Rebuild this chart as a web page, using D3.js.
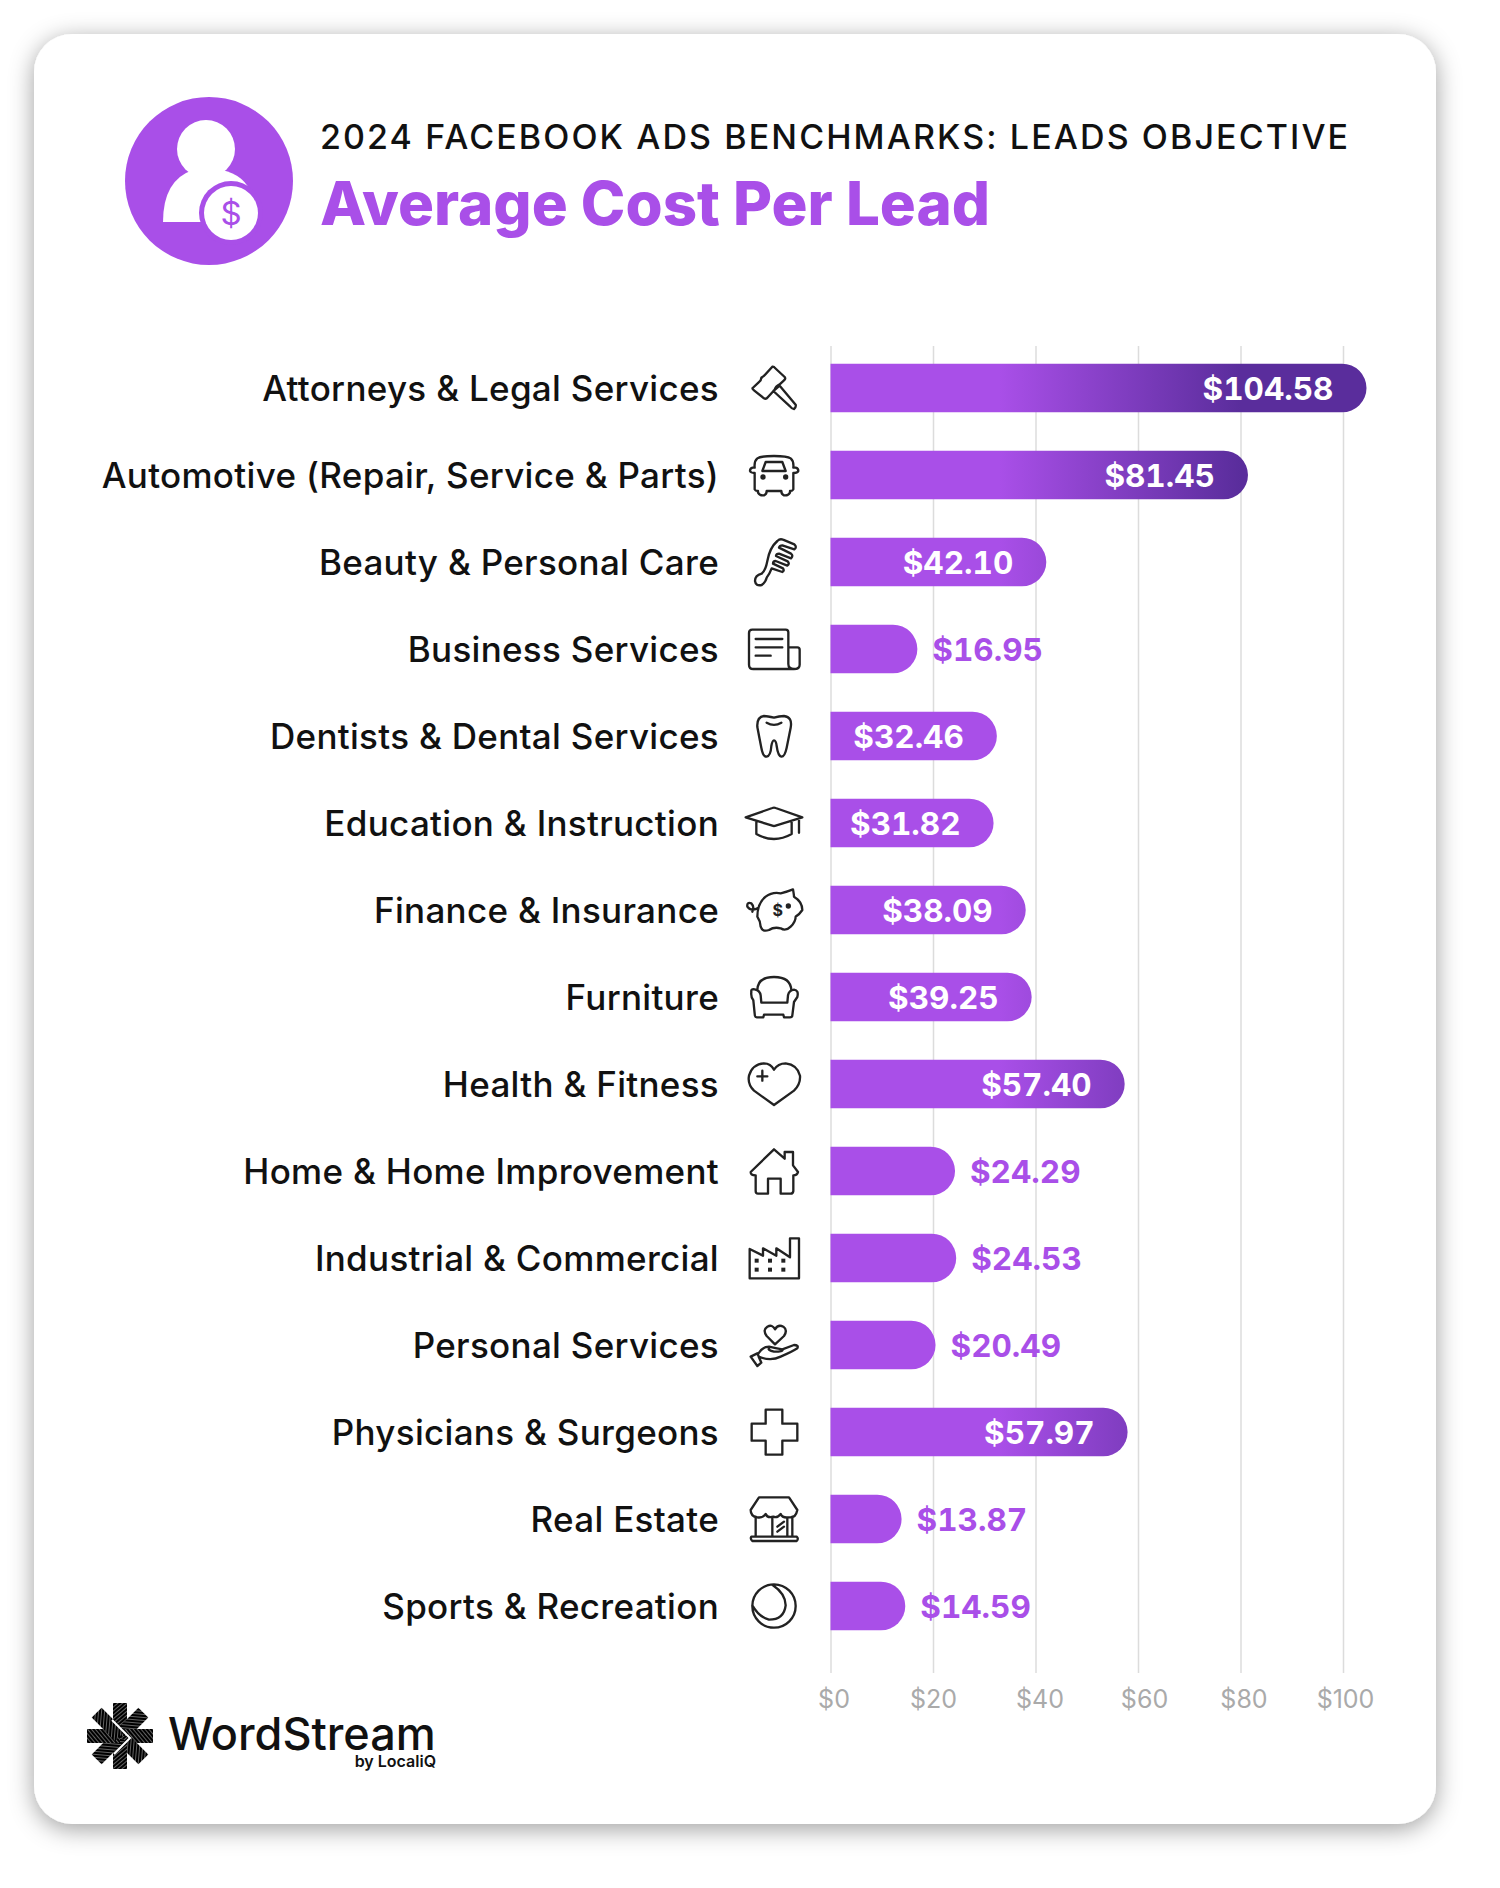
<!DOCTYPE html>
<html>
<head>
<meta charset="utf-8">
<script src="https://cdn.jsdelivr.net/npm/d3@7"></script>
<style>
  html, body { margin: 0; padding: 0; background: #fff; }
  svg { display: block; font-family: Inter, "Noto Sans", sans-serif; }
</style>
</head>
<body>
<svg id="chart" width="1500" height="1888"></svg>
<script>
const categories = ["Attorneys & Legal Services", "Automotive (Repair, Service & Parts)", "Beauty & Personal Care",
  "Business Services", "Dentists & Dental Services", "Education & Instruction", "Finance & Insurance", "Furniture",
  "Health & Fitness", "Home & Home Improvement", "Industrial & Commercial", "Personal Services",
  "Physicians & Surgeons", "Real Estate", "Sports & Recreation"];
const costs = [104.58, 81.45, 42.10, 16.95, 32.46, 31.82, 38.09, 39.25, 57.40, 24.29, 24.53, 20.49, 57.97, 13.87, 14.59];
const tickValues = [0, 20, 40, 60, 80, 100];

const purple = "#a94fe8", deep = "#5a2d9c", ink = "#111";

// icon outlines traced at 3x, centred on cx,cy
const iconShapes = [
  { cx: 130, cy: 95, d: "M66,95 L84,78 Q92,72 92,64 Q98,62 110,48 L125,31 Q130,30 133,35 L162,62 Q166,68 160,72 L147,84 Q135,90 132,100 L112,122 Q106,130 100,126 L70,102 Q64,98 66,95 Z M128,104 L147,88 L195,145 Q197,152 190,158 Q184,158 178,150 Z" },
  { cx: 130, cy: 352, d: "M72,330 Q70,310 80,302 Q90,295 130,295 Q170,295 180,302 Q190,310 188,330 L195,330 Q203,332 203,340 Q200,346 190,346 L188,346 L188,395 Q186,400 178,400 L178,405 Q172,415 160,413 Q152,410 152,400 L108,400 Q108,410 100,413 Q88,415 82,405 L82,400 Q74,400 72,395 L72,346 Q60,346 58,340 Q58,332 66,330 Z M95,340 L105,313 L155,313 L165,340 Z", dots: [[97, 358], [165, 358]] },
  { cx: 125, cy: 615, d: "M68,672 Q68,655 88,650 Q100,640 105,612 Q112,572 135,552 Q143,544 152,548 L186,562 Q195,570 186,577 L150,565 Q142,565 140,572 L176,590 Q184,596 176,604 L140,590 Q132,590 131,597 L166,613 Q173,620 165,626 L130,612 Q122,612 122,620 L152,634 Q157,642 150,645 L118,634 Q112,650 103,662 Q100,675 88,684 Q70,688 68,672 Z" },
  { cx: 130, cy: 875, d: "M65,817 L165,817 Q173,817 173,825 L173,920 Q173,935 190,935 L68,935 Q55,935 55,922 L55,827 Q55,817 65,817 Z M173,870 L200,870 Q207,870 207,877 L207,922 Q207,935 190,935 M75,845 H155 M75,870 H155 M75,895 H120" },
  { cx: 130, cy: 1135, d: "M130,1080 Q110,1075 100,1075 Q78,1078 80,1108 Q85,1135 92,1170 Q97,1198 108,1197 Q120,1195 122,1165 Q125,1148 130,1148 Q136,1148 138,1165 Q142,1195 152,1197 Q162,1198 168,1170 Q175,1135 180,1110 Q186,1078 160,1075 Q145,1075 130,1080 Z M108,1095 Q130,1108 152,1095" },
  { cx: 130, cy: 1395, d: "M45,1378 L125,1350 Q130,1348 135,1350 L215,1378 L135,1403 Q130,1405 125,1403 Z M77,1392 L77,1428 Q130,1458 183,1428 L183,1392 M205,1382 L205,1424" },
  { cx: 130, cy: 155, d: "M105,115 Q125,100 150,105 Q170,100 187,93 Q190,110 190,115 Q215,130 215,155 Q205,170 195,175 Q195,190 180,205 Q165,220 150,210 Q130,205 115,215 Q95,222 90,205 Q90,190 80,175 Q80,135 105,115 Z M80,150 Q60,160 50,145 Q48,130 62,135 Q72,145 65,160", dots: [[173, 143]], glyph: [141, 172] },
  { cx: 130, cy: 415, d: "M80,395 Q80,355 130,355 Q180,355 182,395 M62,400 Q60,390 72,392 Q88,395 90,410 L92,432 L170,432 L172,410 Q175,395 190,393 Q205,395 200,415 L190,430 L185,470 Q185,476 178,476 L160,476 L158,468 L100,468 L98,476 L78,476 Q72,476 72,465 L68,425 Q60,415 62,400 Z" },
  { cx: 130, cy: 675, d: "M130,738 L70,695 Q50,675 55,650 Q65,615 100,613 Q120,613 130,632 Q142,613 165,613 Q200,617 208,650 Q210,675 190,695 Z M95,635 V665 M80,652 H110" },
  { cx: 130, cy: 935, d: "M60,938 L130,870 L162,898 V878 H187 V918 L202,938 Q200,948 188,948 V995 Q187,1003 180,1003 L150,1003 V958 H112 V1003 L82,1003 Q75,1003 75,995 V948 Q60,948 60,938 Z" },
  { cx: 130, cy: 1197, d: "M57,1258 V1170 L97,1190 V1168 L137,1190 V1168 L178,1195 V1138 H205 V1258 Z", squares: [[78, 1205], [118, 1205], [158, 1205], [78, 1232], [118, 1232], [158, 1232]] },
  { cx: 130, cy: 135, d: "M133,133 L108,108 Q95,90 110,80 Q125,72 133,88 Q142,72 158,80 Q172,90 160,108 Z M60,170 L80,198 L92,188 L84,170 Q120,185 150,170 Q185,155 200,145 Q205,135 190,135 L155,148 Q160,155 130,155 Q110,150 115,145 M60,170 L80,160 L92,188 M82,162 Q95,140 115,140 Q135,145 155,148" },
  { cx: 130, cy: 397, d: "M105,330 H155 V372 H200 V423 H155 V465 H105 V423 H63 V372 H105 Z" },
  { cx: 130, cy: 657, d: "M85,592 H175 L200,630 Q195,655 175,652 Q155,655 150,642 Q140,655 128,650 Q110,655 105,642 Q95,655 80,652 Q60,650 60,630 Z M75,650 V710 M185,650 V710 M62,710 H198 Q205,716 198,723 H65 Q58,716 62,710 Z M125,652 V710 H170 V652 M140,680 L160,665 M140,695 L160,680" },
  { cx: 130, cy: 917, d: "M195,917 A65,65 0 1 1 65,917 A65,65 0 1 1 195,917 Z M125,853 Q165,880 165,915 Q160,958 115,958 Q85,950 65,915" }
];

const svg = d3.select("#chart");
const defs = svg.append("defs");

const shadow = defs.append("filter").attr("id", "cardShadow")
  .attr("x", "-5%").attr("y", "-5%").attr("width", "110%").attr("height", "110%");
shadow.append("feDropShadow").attr("dx", 0).attr("dy", 5).attr("stdDeviation", 12)
  .attr("flood-color", "#000").attr("flood-opacity", 0.38);

svg.append("rect")
  .attr("x", 34).attr("y", 34).attr("width", 1402).attr("height", 1790).attr("rx", 38)
  .attr("fill", "#fff").attr("filter", "url(#cardShadow)");

// header
svg.append("circle").attr("cx", 209).attr("cy", 181).attr("r", 84).attr("fill", purple);
svg.append("ellipse").attr("cx", 206).attr("cy", 149).attr("rx", 29).attr("ry", 29).attr("fill", "#fff");
svg.append("path").attr("d", "M163,222 Q163,180 193,170 L222,170 Q245,175 252,195 L252,222 Z").attr("fill", "#fff");
svg.append("circle").attr("cx", 231).attr("cy", 213).attr("r", 32).attr("fill", purple);
svg.append("circle").attr("cx", 231).attr("cy", 213).attr("r", 27).attr("fill", "#fff");
svg.append("text").attr("x", 231).attr("y", 225).attr("text-anchor", "middle")
  .attr("font-size", 33).attr("fill", purple).text("$");

svg.append("text").attr("x", 320).attr("y", 149)
  .attr("font-size", 34).attr("font-weight", 500).attr("letter-spacing", 2.1).attr("fill", ink)
  .text("2024 FACEBOOK ADS BENCHMARKS: LEADS OBJECTIVE");
svg.append("text").attr("x", 320).attr("y", 225)
  .attr("font-size", 60).attr("font-weight", 800).attr("fill", purple)
  .text("Average Cost Per Lead");

// chart
const x = d3.scaleLinear().domain([0, 100]).range([830.5, 1343]);
const y = d3.scaleBand().domain(categories).range([344.5, 1649.5]).paddingInner(0.44).paddingOuter(0.22);
const barH = y.bandwidth();

const axis = svg.append("g")
  .attr("transform", "translate(0,1673)")
  .call(d3.axisBottom(x).tickValues(tickValues).tickFormat(d => "$" + d).tickSize(-1327));
axis.select(".domain").remove();
axis.selectAll(".tick line").attr("stroke", "#dcdcdc").attr("stroke-width", 1.5);
axis.selectAll(".tick text")
  .attr("font-size", 25).attr("fill", "#aaa").attr("font-family", "Inter")
  .attr("y", 35).attr("dy", 0)
  .attr("dx", (d, i) => [3, 0, 4, 6, 3, 2][i]);

// one gradient laid over the whole plot, so short bars never reach the deep end
const barFill = defs.append("linearGradient").attr("id", "barFill")
  .attr("gradientUnits", "userSpaceOnUse")
  .attr("x1", x(33)).attr("x2", x(80)).attr("y1", 0).attr("y2", 0);
barFill.append("stop").attr("offset", 0).attr("stop-color", purple);
barFill.append("stop").attr("offset", 1).attr("stop-color", deep);

const barPath = (v, c) => {
  const p = d3.path(), r = barH / 2, top = y(c), x0 = x(0), x1 = x(v);
  p.moveTo(x0, top);
  p.lineTo(x1 - r, top);
  p.arc(x1 - r, top + r, r, -Math.PI / 2, Math.PI / 2);
  p.lineTo(x0, top + barH);
  p.closePath();
  return p.toString();
};

const rows = svg.append("g").selectAll("g").data(categories).join("g");

rows.append("path")
  .attr("d", (c, i) => barPath(costs[i], c))
  .attr("fill", "url(#barFill)");

rows.append("text")
  .attr("x", 719)
  .attr("y", c => y(c) + barH / 2 + 13)
  .attr("text-anchor", "end")
  .attr("font-size", 35).attr("font-weight", 500).attr("letter-spacing", 0.3).attr("fill", ink)
  .text(c => c);

rows.append("text")
  .attr("x", (c, i) => costs[i] < 25 ? x(costs[i]) + 15 : x(costs[i]) - 33)
  .attr("y", c => y(c) + barH / 2 + 12)
  .attr("text-anchor", (c, i) => costs[i] < 25 ? "start" : "end")
  .attr("font-size", 31.5).attr("font-weight", 700)
  .style("font-feature-settings", "'tnum'")
  .attr("fill", (c, i) => costs[i] < 25 ? purple : "#fff")
  .text((c, i) => "$" + costs[i].toFixed(2));

const icons = rows.append("g")
  .attr("transform", (c, i) => `translate(774,${y(c) + barH / 2}) scale(0.3333) translate(${-iconShapes[i].cx},${-iconShapes[i].cy})`);
icons.append("path")
  .attr("d", (c, i) => iconShapes[i].d)
  .attr("fill", "none").attr("stroke", "#222").attr("stroke-width", 7).attr("stroke-linejoin", "round").attr("stroke-linecap", "round");
icons.each(function (c, i) {
  const s = iconShapes[i], g = d3.select(this);
  (s.dots || []).forEach(p => g.append("circle").attr("cx", p[0]).attr("cy", p[1]).attr("r", 8).attr("fill", "#222"));
  (s.squares || []).forEach(p => g.append("rect").attr("x", p[0] - 6).attr("y", p[1] - 6).attr("width", 12).attr("height", 12).attr("fill", "#222"));
  if (s.glyph) g.append("text").attr("x", s.glyph[0]).attr("y", s.glyph[1]).attr("text-anchor", "middle")
    .attr("font-size", 48).attr("font-weight", 700).attr("fill", "#222").text("$");
});

// logo
const hatch = defs.append("pattern").attr("id", "logoHatch").attr("patternUnits", "userSpaceOnUse")
  .attr("width", 3).attr("height", 3).attr("patternTransform", "rotate(-40)");
hatch.append("rect").attr("width", 3).attr("height", 3).attr("fill", "#000");
hatch.append("rect").attr("width", 3).attr("height", 0.7).attr("fill", "#fff").attr("opacity", 0.55);

const logo = svg.append("g").attr("transform", "translate(120,1736)");
d3.range(8).forEach(k => {
  logo.append("rect").attr("x", -7).attr("y", -33).attr("width", 14).attr("height", 33)
    .attr("fill", "url(#logoHatch)").attr("transform", `rotate(${k * 45})`);
});
logo.append("path").attr("d", "M-8,-16 L10,2 L-6,18").attr("fill", "none").attr("stroke", "#fff").attr("stroke-width", 2);

svg.append("text").attr("x", 168).attr("y", 1750)
  .attr("font-size", 45).attr("font-weight", 500).attr("fill", "#111").text("WordStream");
svg.append("text").attr("x", 436).attr("y", 1767).attr("text-anchor", "end")
  .attr("font-size", 16).attr("font-weight", 600).attr("fill", "#111").text("by LocaliQ");
</script>
</body>
</html>
